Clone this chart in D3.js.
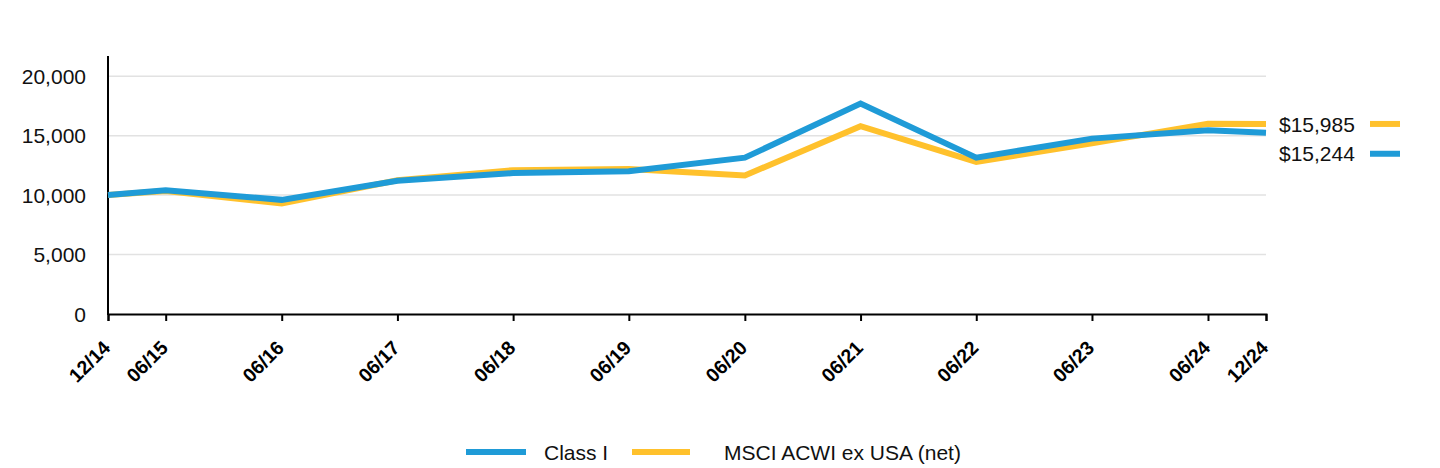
<!DOCTYPE html>
<html><head><meta charset="utf-8">
<script src="https://cdn.jsdelivr.net/npm/d3@7"></script>
<style>body{margin:0;background:#fff;}text{font-family:"Liberation Sans",Arial,sans-serif;}</style>
</head><body><svg id="c" width="1440" height="468"></svg>
<script>
const dates = ["2014-12","2015-06","2016-06","2017-06","2018-06","2019-06","2020-06","2021-06","2022-06","2023-06","2024-06","2024-12"];
const tickLabels = ["12/14","06/15","06/16","06/17","06/18","06/19","06/20","06/21","06/22","06/23","06/24","12/24"];
const classI = [10000,10400,9600,11200,11850,12000,13150,17700,13150,14750,15450,15244];
const msci = [10000,10350,9300,11250,12100,12200,11650,15800,12800,14350,16000,15985];
const yTicks = [0,5000,10000,15000,20000];
const seriesNames = ["Class I","MSCI ACWI ex USA (net)"];
const endLabels = ["$15,985","$15,244"];

const blue = "#1F9BD7", gold = "#FFC12C";
const svg = d3.select("#c");
const parse = d3.utcParse("%Y-%m");
const dd = dates.map(parse);
const x = d3.scaleUtc().domain([dd[0], dd[dd.length-1]]).range([108,1266]);
const y = d3.scaleLinear().domain([0,21700]).range([314,56]);

// grid
svg.append("g").selectAll("line").data(yTicks.filter(d=>d>0)).join("line")
  .attr("x1",108).attr("x2",1266).attr("y1",d=>y(d)).attr("y2",d=>y(d))
  .attr("stroke","#e2e2e2").attr("stroke-width",1.5);

// y labels
svg.append("g").selectAll("text").data(yTicks).join("text")
  .attr("x",86).attr("y",d=>y(d)).attr("dy","0.36em").attr("text-anchor","end")
  .style("font-size","21px").attr("fill","#111").text(d=>d3.format(",")(d));

// x axis
const xa = svg.append("g").attr("transform","translate(0,314)")
  .call(d3.axisBottom(x).tickValues(dd).tickSize(7).tickFormat((d,i)=>tickLabels[i]));
xa.attr("font-size",null).attr("font-family",null);
xa.select(".domain").attr("stroke","#000").attr("stroke-width",2);
xa.selectAll(".tick line").attr("stroke","#000").attr("stroke-width",2);
xa.selectAll(".tick text").style("font-size","19.5px").style("font-weight","bold").attr("fill","#000")
  .attr("text-anchor","end").attr("dy",null).attr("y",0)
  .attr("transform","translate(3,35) rotate(-45)");

// y axis line
svg.append("line").attr("x1",108).attr("x2",108).attr("y1",56).attr("y2",315)
  .attr("stroke","#000").attr("stroke-width",2);

const line = d3.line().x((d,i)=>x(dd[i])).y(d=>y(d));
svg.append("path").datum(msci).attr("d",line).attr("fill","none")
  .attr("stroke",gold).attr("stroke-width",6).attr("stroke-linejoin","miter");
svg.append("path").datum(classI).attr("d",line).attr("fill","none")
  .attr("stroke",blue).attr("stroke-width",6).attr("stroke-linejoin","miter");

// end labels
const ends = [{c:gold,t:endLabels[0],yy:y(msci[msci.length-1])},
              {c:blue,t:endLabels[1],yy:y(classI[classI.length-1])+21}];
ends.forEach(e=>{
  svg.append("text").attr("x",1279).attr("y",e.yy).attr("dy","0.36em")
    .style("font-size","21px").attr("fill","#111").text(e.t);
  svg.append("line").attr("x1",1370).attr("x2",1400).attr("y1",e.yy).attr("y2",e.yy)
    .attr("stroke",e.c).attr("stroke-width",6);
});

// legend
const lg = [{c:blue,t:seriesNames[0],x0:466,x1:526,tx:544},{c:gold,t:seriesNames[1],x0:632,x1:690,tx:724}];
lg.forEach(l=>{
  svg.append("line").attr("x1",l.x0).attr("x2",l.x1).attr("y1",452).attr("y2",452)
    .attr("stroke",l.c).attr("stroke-width",6);
  svg.append("text").attr("x",l.tx).attr("y",452).attr("dy","0.36em")
    .style("font-size","21px").attr("fill","#111").text(l.t);
});
</script></body></html>
